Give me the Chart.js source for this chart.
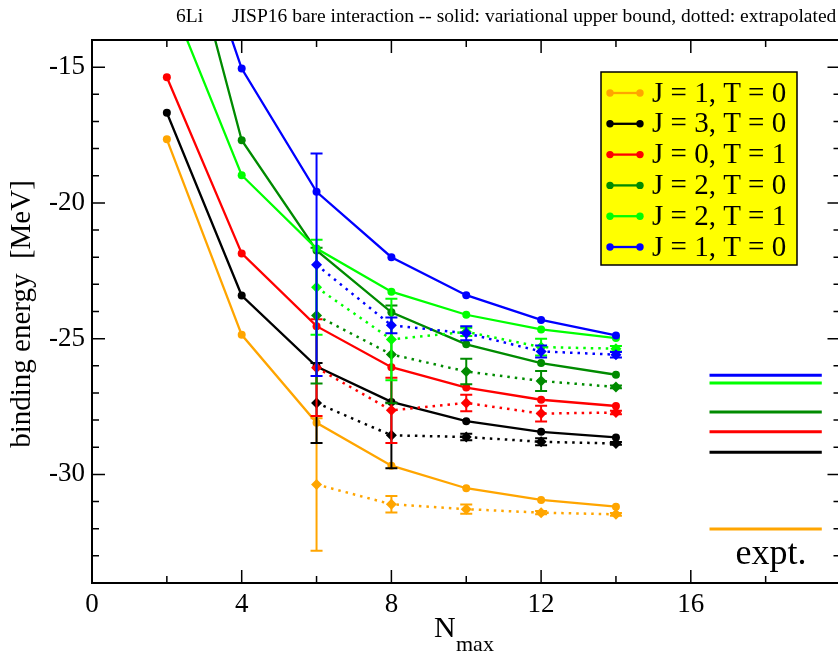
<!DOCTYPE html>
<html>
<head>
<meta charset="utf-8">
<script src="https://cdn.jsdelivr.net/npm/chart.js@4/dist/chart.umd.min.js"></script>
<style>
  html, body { margin: 0; padding: 0; overflow: hidden; background: #fff; }
  #wrap { position: relative; width: 846px; height: 653px; }
</style>
</head>
<body>
<div id="wrap"><canvas id="chart" width="846" height="653"></canvas></div>
<script>
// N_max values
const nmax = [2, 4, 6, 8, 10, 12, 14];
const nmaxExtrap = [6, 8, 10, 12, 14];

const stateLabels = ["J = 1, T = 0", "J = 3, T = 0", "J = 0, T = 1", "J = 2, T = 0", "J = 2, T = 1", "J = 1, T = 0"];
const stateColors = ["#ffa500", "#000000", "#ff0000", "#008b00", "#00ff00", "#0000ff"];

// variational upper bounds (solid)
const varJ1T0 = [-17.66, -24.86, -28.10, -29.68, -30.51, -30.94, -31.19];
const varJ3T0 = [-16.68, -23.41, -26.03, -27.33, -28.04, -28.43, -28.64];
const varJ0T1 = [-15.37, -21.86, -24.54, -26.05, -26.80, -27.25, -27.48];
const varJ2T0 = [-7.29, -17.69, -21.75, -24.03, -25.21, -25.90, -26.33];
const varJ2T1 = [-12.16, -18.98, -21.68, -23.27, -24.12, -24.66, -24.98];
const varJ1T0b = [-6.97, -15.05, -19.59, -22.00, -23.40, -24.31, -24.88];

// extrapolated (dotted) and their uncertainties
const extJ1T0 = [-30.37, -31.10, -31.28, -31.41, -31.47];
const errJ1T0 = [2.44, 0.30, 0.17, 0.06, 0.05];
const extJ3T0 = [-27.37, -28.56, -28.62, -28.80, -28.86];
const errJ3T0 = [1.47, 1.21, 0.12, 0.13, 0.05];
const extJ0T1 = [-26.07, -27.64, -27.37, -27.76, -27.72];
const errJ0T1 = [1.78, 1.20, 0.30, 0.29, 0.06];
const extJ2T0 = [-24.15, -25.58, -26.21, -26.56, -26.78];
const errJ2T0 = [2.50, 1.80, 0.47, 0.37, 0.05];
const extJ2T1 = [-23.11, -25.03, -24.75, -25.31, -25.37];
const errJ2T1 = [1.75, 1.50, 0.15, 0.31, 0.10];
const extJ1T0b = [-22.28, -24.51, -24.80, -25.47, -25.59];
const errJ1T0b = [4.10, 0.29, 0.26, 0.22, 0.10];

// experiment
const exptEnergies = [-32.01, -29.18, -28.43, -27.70, -26.63, -26.35];
const exptRange = [16.5, 19.5];

const xTicks = [0, 4, 8, 12, 16];
const yTicks = [-30, -25, -20, -15];

const variational = [varJ1T0, varJ3T0, varJ0T1, varJ2T0, varJ2T1, varJ1T0b];
const extrapolated = [extJ1T0, extJ3T0, extJ0T1, extJ2T0, extJ2T1, extJ1T0b];
const extrapErrors = [errJ1T0, errJ3T0, errJ0T1, errJ2T0, errJ2T1, errJ1T0b];

const serif = "'Liberation Serif', 'DejaVu Serif', serif";

const datasets = [];
let order = 100;
stateLabels.forEach((label, i) => {
  const color = stateColors[i];
  datasets.push({
    label,
    data: nmax.map((n, k) => ({ x: n, y: variational[i][k] })),
    showLine: true,
    borderColor: color,
    backgroundColor: color,
    borderWidth: 2.3,
    pointRadius: 4,
    pointBorderWidth: 0,
    order: order--,
  });
  datasets.push({
    label: label + " extrapolated",
    data: nmaxExtrap.map((n, k) => ({ x: n, y: extrapolated[i][k] })),
    errors: extrapErrors[i],
    showLine: true,
    borderColor: color,
    backgroundColor: color,
    borderWidth: 2.5,
    borderDash: [2.5, 5],
    pointStyle: "rectRot",
    pointRadius: 5.5,
    pointBorderWidth: 0,
    order: order--,
  });
});
stateLabels.forEach((label, i) => {
  datasets.push({
    label: label + " expt",
    data: exptRange.map((n) => ({ x: n, y: exptEnergies[i] })),
    showLine: true,
    borderColor: stateColors[i],
    borderWidth: 3,
    pointRadius: 0,
    order: order--,
  });
});

const errorBars = {
  id: "errorBars",
  afterDatasetDraw(chart, args) {
    const ds = chart.data.datasets[args.index];
    if (!ds.errors) return;
    const { ctx, chartArea: a } = chart;
    const x = chart.scales.x;
    const y = chart.scales.y;
    ctx.save();
    ctx.beginPath();
    ctx.rect(a.left, a.top, a.right - a.left, a.bottom - a.top);
    ctx.clip();
    ctx.strokeStyle = ds.borderColor;
    ctx.lineWidth = 2;
    ctx.beginPath();
    ds.data.forEach((p, k) => {
      const px = x.getPixelForValue(p.x);
      const top = y.getPixelForValue(p.y + ds.errors[k]);
      const bot = y.getPixelForValue(p.y - ds.errors[k]);
      ctx.moveTo(px, top); ctx.lineTo(px, bot);
      ctx.moveTo(px - 6, top); ctx.lineTo(px + 6, top);
      ctx.moveTo(px - 6, bot); ctx.lineTo(px + 6, bot);
    });
    ctx.stroke();
    ctx.restore();
  },
};

const frameTicks = {
  id: "frameTicks",
  afterDraw(chart) {
    const { ctx, chartArea: a } = chart;
    const x = chart.scales.x;
    const y = chart.scales.y;
    ctx.save();
    ctx.strokeStyle = "#000";
    ctx.lineWidth = 1.5;
    ctx.beginPath();
    for (let v = x.min; v <= x.max; v += 2) {
      const px = x.getPixelForValue(v);
      const len = v % 4 === 0 ? 13 : 7;
      ctx.moveTo(px, a.bottom); ctx.lineTo(px, a.bottom - len);
      ctx.moveTo(px, a.top); ctx.lineTo(px, a.top + len);
    }
    for (let v = y.min; v <= y.max; v += 1) {
      const py = y.getPixelForValue(v);
      const len = v % 5 === 0 ? 13 : 7;
      ctx.moveTo(a.left, py); ctx.lineTo(a.left + len, py);
      ctx.moveTo(a.right, py); ctx.lineTo(a.right - len, py);
    }
    ctx.stroke();
    ctx.lineWidth = 2;
    ctx.strokeRect(a.left, a.top, a.right - a.left, a.bottom - a.top);
    ctx.restore();
  },
};

const texts = {
  id: "texts",
  afterDraw(chart) {
    const { ctx } = chart;
    ctx.save();
    ctx.fillStyle = "#000";
    ctx.textBaseline = "alphabetic";
    ctx.textAlign = "left";
    ctx.font = "19.5px " + serif;
    ctx.fillText("6Li", 176, 22);
    ctx.fillText("JISP16 bare interaction -- solid: variational upper bound, dotted: extrapolated", 232, 22);

    ctx.font = "30px " + serif;
    ctx.fillText("N", 434, 637);
    ctx.font = "22px " + serif;
    ctx.fillText("max", 456, 651);

    ctx.font = "36px " + serif;
    ctx.textAlign = "center";
    ctx.fillText("expt.", 771, 564);

    ctx.save();
    ctx.translate(22, 314);
    ctx.rotate(-Math.PI / 2);
    ctx.font = "29px " + serif;
    ctx.textBaseline = "middle";
    ctx.fillText("binding energy  [MeV]", 0, 0);
    ctx.restore();

    // legend
    const left = 601, top = 72, w = 196, h = 193;
    ctx.fillStyle = "#ffff00";
    ctx.fillRect(left, top, w, h);
    ctx.strokeStyle = "#000";
    ctx.lineWidth = 1.5;
    ctx.strokeRect(left, top, w, h);
    ctx.font = "29px " + serif;
    ctx.textAlign = "left";
    ctx.textBaseline = "middle";
    stateLabels.forEach((label, i) => {
      const cy = 93 + i * 30.8;
      ctx.strokeStyle = stateColors[i];
      ctx.fillStyle = stateColors[i];
      ctx.lineWidth = 2.3;
      ctx.beginPath();
      ctx.moveTo(610, cy); ctx.lineTo(640, cy);
      ctx.stroke();
      [610, 640].forEach((cx) => {
        ctx.beginPath();
        ctx.arc(cx, cy, 3.7, 0, Math.PI * 2);
        ctx.fill();
      });
      ctx.fillStyle = "#000";
      ctx.fillText(label, 652, cy + 1);
    });
    ctx.restore();
  },
};

new Chart(document.getElementById("chart"), {
  type: "scatter",
  data: { datasets },
  options: {
    responsive: false,
    devicePixelRatio: 1,
    animation: false,
    layout: { padding: { top: 40, right: 2, left: 0, bottom: 0 } },
    plugins: { legend: { display: false }, tooltip: { enabled: false } },
    scales: {
      x: {
        type: "linear",
        min: 0,
        max: 20,
        afterFit: (s) => { s.height = 70; },
        afterBuildTicks: (s) => { s.ticks = xTicks.map((v) => ({ value: v })); },
        grid: { display: false, drawTicks: false },
        border: { display: false },
        ticks: { color: "#000", font: { family: serif, size: 27 }, padding: 6, maxRotation: 0 },
      },
      y: {
        type: "linear",
        min: -34,
        max: -14,
        afterFit: (s) => { s.width = 92; },
        afterBuildTicks: (s) => { s.ticks = yTicks.map((v) => ({ value: v })); },
        grid: { display: false, drawTicks: false },
        border: { display: false },
        ticks: { color: "#000", font: { family: serif, size: 27 }, padding: 7 },
      },
    },
  },
  plugins: [errorBars, frameTicks, texts],
});
</script>
</body>
</html>
